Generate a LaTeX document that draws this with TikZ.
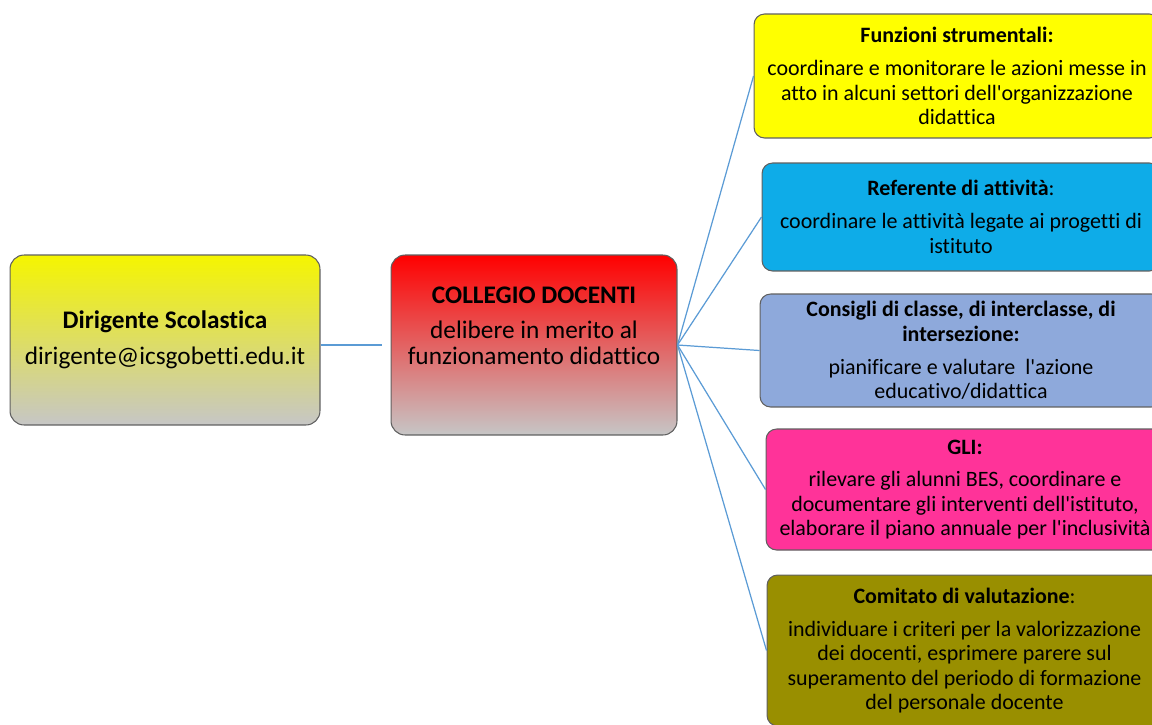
\documentclass[tikz,border=0pt]{standalone}
\usepackage{fontspec}
\setmainfont{Carlito}[Ligatures={NoCommon}]

\definecolor{linkblue}{RGB}{91,155,213}
\definecolor{dirtop}{RGB}{245,245,0}
\definecolor{fadegray}{RGB}{198,198,198}
\definecolor{funyellow}{RGB}{255,255,0}
\definecolor{refblue}{RGB}{14,172,232}
\definecolor{consblue}{RGB}{142,169,219}
\definecolor{glipink}{RGB}{255,51,153}
\definecolor{comolive}{RGB}{153,143,0}
\newcommand{\apos}{\textquotesingle}

\begin{document}
\begin{tikzpicture}[x=0.02cm, y=-0.02cm,
  box/.style={draw=gray!75!black, line width=0.6pt, align=center, inner sep=2pt},
  bigbox/.style={box, rounded corners=8pt, font=\fontsize{14.4}{15}\selectfont},
  sidebox/.style={box, rounded corners=6pt, font=\fontsize{12.5}{13.9}\selectfont},
  link/.style={draw=linkblue, line width=0.7pt}
]
\useasboundingbox (0,0) rectangle (1152,724);

\node[bigbox, top color=dirtop, bottom color=fadegray, minimum width=6.2cm, minimum height=3.4cm] (dir) at (165,340)
  {\textbf{Dirigente Scolastica}\\[5.2pt]dirigente@icsgobetti.edu.it};
\node[bigbox, top color=red, bottom color=fadegray, minimum width=5.72cm, minimum height=3.6cm] (coll) at (534,345)
  {\textbf{COLLEGIO DOCENTI}\\[5.2pt]delibere in merito al\\funzionamento didattico\\[2.4pt]\strut};

\node[sidebox, fill=funyellow, minimum width=8.12cm, minimum height=2.48cm] (fun) at (957,76)
  {\textbf{Funzioni strumentali:}\\[4.8pt]coordinare e monitorare le azioni messe in\\atto in alcuni settori dell\apos organizzazione\\didattica};
\node[sidebox, fill=refblue, minimum width=7.96cm, minimum height=2.16cm] (ref) at (961,217)
  {\textbf{Referente di attività}:\\[4.8pt]coordinare le attività legate ai progetti di\\istituto};
\node[sidebox, fill=consblue, minimum width=8.04cm, minimum height=2.26cm] (cons) at (961,350.5)
  {\textbf{Consigli di classe, di interclasse, di}\\\textbf{intersezione:}\\[4.8pt]pianificare e valutare \ l\apos azione\\educativo/didattica};
\node[sidebox, fill=glipink, minimum width=7.96cm, minimum height=2.42cm] (gli) at (965,489.5)
  {\textbf{GLI:}\\[4.8pt]rilevare gli alunni BES, coordinare e\\documentare gli interventi dell\apos istituto,\\elaborare il piano annuale per l\apos inclusività};
\node[sidebox, fill=comolive, minimum width=7.9cm, minimum height=3.02cm] (com) at (964.5,650.5)
  {\textbf{Comitato di valutazione}:\\[4.8pt]individuare i criteri per la valorizzazione\\dei docenti, esprimere parere sul\\superamento del periodo di formazione\\del personale docente};

\draw[link] (dir.east |- coll.west) -- ([xshift=-5pt]coll.west);
\foreach \n in {fun,ref,cons,gli,com}
  \draw[link] (coll.east) -- (\n.west);

\end{tikzpicture}
\end{document}
